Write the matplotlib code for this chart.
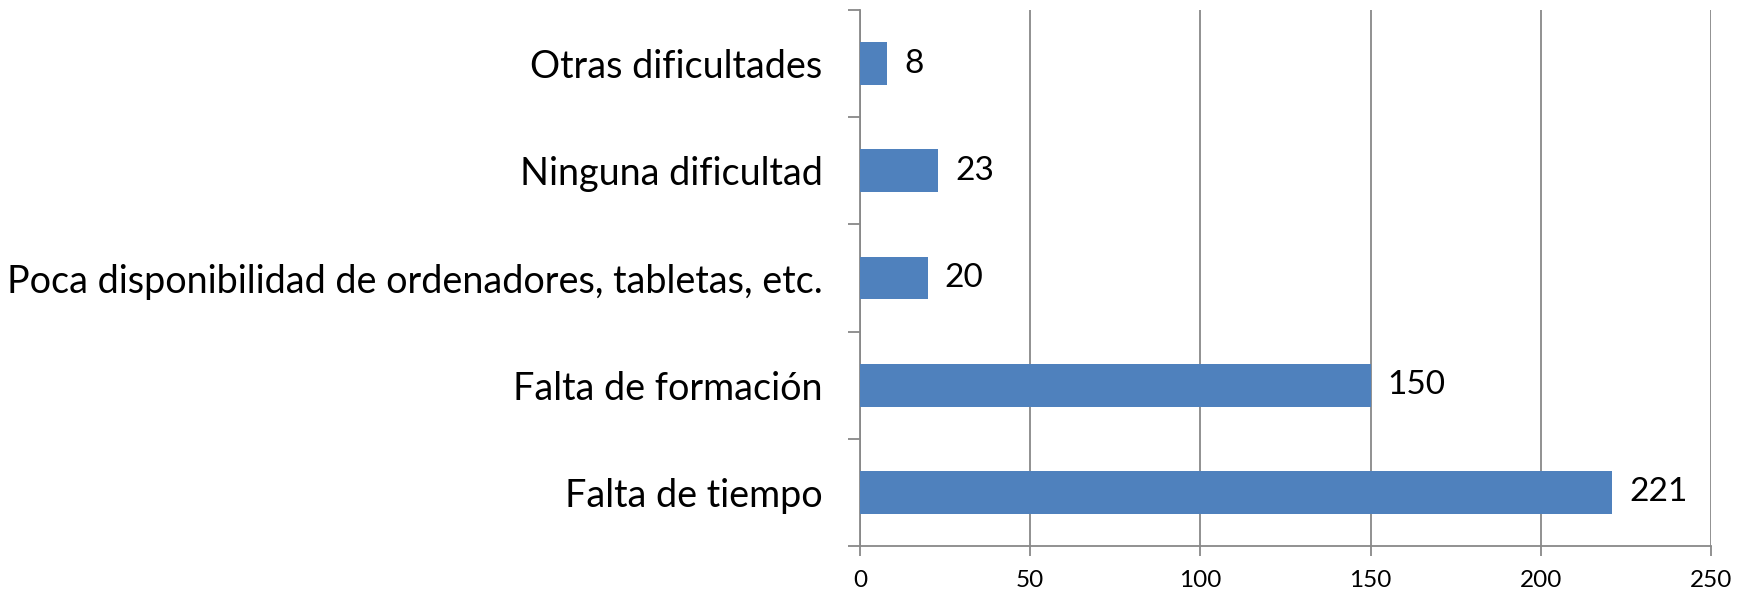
import matplotlib
matplotlib.use("Agg")
import matplotlib.pyplot as plt

categories = ["Falta de tiempo", "Falta de formación",
              "Poca disponibilidad de ordenadores, tabletas, etc.",
              "Ninguna dificultad", "Otras dificultades"]
values = [221, 150, 20, 23, 8]
xticks = [0, 50, 100, 150, 200, 250]

plt.rcParams['font.family'] = ['Lato', 'DejaVu Sans']

W, H = 1747, 591
fig = plt.figure(figsize=(W / 100, H / 100), dpi=100)
ax = fig.add_axes([860 / W, 1 - 546 / H, (1711 - 860) / W, (546 - 10) / H])

bar_color = "#4F81BD"
grid_color = "#888888"
ypos = list(range(len(categories)))
ax.barh(ypos, values, height=0.4, color=bar_color, zorder=3)
ax.set_xlim(0, 250)
ax.set_ylim(-0.5, len(categories) - 0.5)

ax.set_xticks(xticks)
ax.set_xticklabels([str(t) for t in xticks], fontsize=17.5)
ax.set_yticks(ypos)
ax.set_yticklabels(categories, fontsize=27.2)

ax.xaxis.grid(True, color=grid_color, linewidth=1.3, zorder=0)
for s in ["top", "right"]:
    ax.spines[s].set_visible(False)
for s in ["left", "bottom"]:
    ax.spines[s].set_color(grid_color)
    ax.spines[s].set_linewidth(1.3)

ax.tick_params(axis="x", length=7, color=grid_color, width=1.3, pad=10)
ax.tick_params(axis="y", length=0, pad=27)
# minor ticks at category boundaries on y-axis
ax.set_yticks([i - 0.5 for i in range(len(categories) + 1)], minor=True)
ax.tick_params(axis="y", which="minor", length=9, color=grid_color, width=1.3)

for y, v in zip(ypos, values):
    ax.annotate(str(v), xy=(v, y), xytext=(12, 0), textcoords="offset points",
                va="center", ha="left", fontsize=24, color="black")

fig.savefig("out.png", dpi=100)
